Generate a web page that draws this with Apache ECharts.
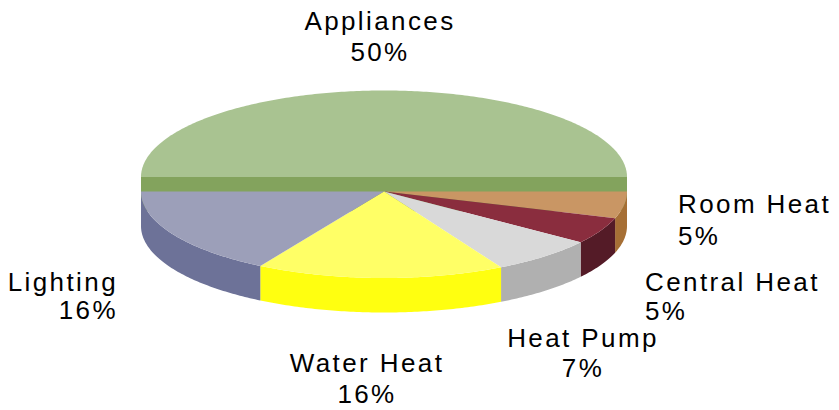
<!DOCTYPE html>
<html>
<head>
<meta charset="utf-8">
<style>
    html, body { margin: 0; padding: 0; background: #fff; }
    #main { width: 839px; height: 410px; letter-spacing: 2.4px; }
</style>
<script src="https://cdn.jsdelivr.net/npm/echarts@6/dist/echarts.min.js"></script>
</head>
<body>
<div id="main"></div>
<script>
    // slice order runs clockwise from the left edge, over the top
    const categories = ['Appliances', 'Room Heat', 'Central Heat', 'Heat Pump', 'Water Heat', 'Lighting'];
    // shares measured from the slice angles, the labels below are what the picture prints
    const shares = [50, 5, 5, 7, 16.5, 16.5];
    const percentLabels = ['50%', '5%', '5%', '7%', '16%', '16%'];
    const topColors = ['#a9c391', '#c99664', '#8a2d3e', '#d9d9d9', '#ffff66', '#9c9fb9'];
    const sideColors = ['#83a35d', '#a66f35', '#541b27', '#b0b0b0', '#ffff10', '#6d7298'];

    const CX = 384, CY = 191.5, RADIUS = 243;
    const SQUASH = 0.356;   // circle -> ellipse
    const DEPTH = 34.5;     // height of the wall
    const LIFT = 14.5;      // the first slice sits higher than the rest

    // x, y, align, line height of each text block
    const labelLayout = [
        [380, 5, 'center', 31],
        [678, 188, 'left', 32],
        [645, 267, 'left', 29],
        [583, 323, 'center', 30],
        [367, 347, 'center', 31],
        [118, 268, 'right', 28]
    ];

    let rows = [];
    let sum = 0;
    shares.forEach(function (v) {
        rows.push([sum, v]);
        sum += v;
    });

    function renderSlice(params, api) {
        let i = params.dataIndex;
        let start = api.value(0);
        let end = start + api.value(1);
        let lift = i === 0 ? LIFT : 0;

        let project = function (r, a) {
            let p = api.coord([r, a]);
            return [p[0], CY + (p[1] - CY) * SQUASH - lift];
        };

        let arc = [];
        for (let a = start; a < end; a += 0.2) {
            arc.push(project(1, a));
        }
        arc.push(project(1, end));

        let down = function (p) {
            return [p[0], p[1] + DEPTH];
        };
        let centre = project(0, start);

        // first slice shows its straight cut, the others show the rim
        let wall;
        if (i === 0) {
            let ends = [arc[0], arc[arc.length - 1]];
            wall = ends.concat(ends.slice().reverse().map(down));
        } else {
            wall = arc.concat(arc.slice().reverse().map(down));
        }

        return {
            type: 'group',
            children: [
                {
                    type: 'polygon',
                    shape: { points: wall },
                    style: { fill: sideColors[i] }
                },
                {
                    type: 'polygon',
                    shape: { points: [centre].concat(arc) },
                    style: { fill: topColors[i] }
                }
            ]
        };
    }

    let myChart = echarts.init(document.getElementById('main'), null, { renderer: 'svg' });
    myChart.setOption({
        animation: false,
        backgroundColor: '#fff',
        polar: {
            center: [CX, CY],
            radius: RADIUS
        },
        angleAxis: {
            type: 'value',
            min: 0,
            max: 100,
            startAngle: 180,
            clockwise: true,
            show: false
        },
        radiusAxis: {
            type: 'value',
            min: 0,
            max: 1,
            show: false
        },
        series: [
            {
                type: 'custom',
                coordinateSystem: 'polar',
                silent: true,
                clip: false,
                encode: { angle: 0, radius: 1 },
                renderItem: renderSlice,
                data: rows
            }
        ],
        graphic: categories.map(function (name, i) {
            return {
                type: 'text',
                x: labelLayout[i][0],
                y: labelLayout[i][1],
                silent: true,
                style: {
                    text: name + '\n' + percentLabels[i],
                    fill: '#000',
                    align: labelLayout[i][2],
                    verticalAlign: 'top',
                    font: '26px "Liberation Sans", Arial, sans-serif',
                    lineHeight: labelLayout[i][3]
                }
            };
        })
    });
</script>
</body>
</html>
